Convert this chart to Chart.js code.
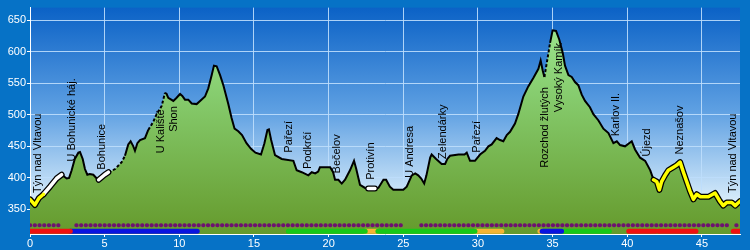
<!DOCTYPE html>
<html>
<head>
<meta charset="utf-8">
<script src="https://cdn.jsdelivr.net/npm/chart.js@4.4.1/dist/chart.umd.min.js"></script>
<style>
  html, body { margin: 0; padding: 0; background: #0672c6; }
  canvas { display: block; }
</style>
</head>
<body>
<canvas id="profile" width="750" height="250"></canvas>
<script>
// elevation profile (km, m)
const distKm = [0, 0.33, 0.6, 0.9, 1.34, 1.78, 2.12, 2.46, 2.62, 2.79, 3.0, 3.24, 3.35, 3.53, 3.68, 3.84, 4.0, 4.24, 4.47, 4.6, 4.8, 5.0, 5.25, 5.7, 6.14, 6.36, 6.58, 6.74, 6.92, 7.03, 7.19, 7.37, 7.7, 7.92, 8.26, 8.48, 8.82, 9.04, 9.15, 9.26, 9.6, 9.82, 10.05, 10.2, 10.38, 10.6, 10.83, 11.16, 11.39, 11.72, 11.94, 12.17, 12.32, 12.5, 12.73, 12.95, 13.28, 13.5, 13.7, 13.95, 14.2, 14.5, 14.8, 15.1, 15.47, 15.7, 15.9, 16.0, 16.15, 16.41, 16.86, 17.64, 17.86, 18.2, 18.64, 18.87, 19.1, 19.3, 19.42, 20.1, 20.3, 20.43, 20.65, 20.88, 21.1, 21.43, 21.7, 21.85, 22.1, 22.44, 22.65, 23.1, 23.33, 23.67, 23.85, 24.1, 24.33, 25.0, 25.23, 25.57, 25.8, 26.0, 26.2, 26.4, 26.55, 26.8, 26.9, 27.2, 27.57, 27.8, 27.95, 28.13, 28.7, 29.1, 29.25, 29.47, 29.8, 30.14, 30.47, 30.7, 30.92, 31.25, 31.48, 31.7, 31.93, 32.15, 32.48, 32.7, 33.04, 33.37, 33.7, 34.05, 34.2, 34.34, 34.45, 34.65, 34.83, 35.0, 35.23, 35.45, 35.68, 35.83, 36.06, 36.28, 36.5, 36.72, 36.95, 37.17, 37.5, 37.73, 38.07, 38.4, 38.74, 39.07, 39.3, 39.52, 39.85, 40.3, 40.52, 40.86, 41.2, 41.54, 41.76, 41.98, 42.15, 42.3, 42.53, 42.75, 43.09, 43.3, 43.54, 43.76, 43.98, 44.2, 44.43, 44.65, 44.9, 45.43, 45.88, 46.2, 46.43, 46.66, 47.0, 47.23, 47.55];
const elevM = [366, 357, 368, 374, 386, 399, 405, 399, 400, 412, 430, 440, 441, 430, 414, 405, 406, 405, 399, 397, 401, 405, 409, 414, 425, 435, 453, 458, 450, 443, 455, 460, 463, 476, 489, 501, 514, 535, 533, 527, 522, 527, 533, 530, 524, 524, 518, 517, 522, 529, 542, 563, 578, 577, 563, 547, 517, 495, 478, 474, 468, 455, 446, 440, 437, 455, 476, 477, 460, 436, 430, 427, 412, 409, 404, 409, 407, 410, 417, 417, 409, 397, 397, 391, 397, 412, 427, 414, 389, 384, 383, 383, 384, 397, 397, 386, 381, 381, 386, 404, 407, 404, 399, 391, 404, 432, 437, 430, 422, 422, 430, 435, 437, 437, 440, 427, 427, 437, 443, 450, 453, 463, 460, 458, 468, 473, 486, 501, 529, 545, 558, 573, 586, 570, 560, 588, 614, 634, 633, 619, 598, 578, 563, 560, 552, 547, 532, 522, 512, 501, 491, 478, 471, 455, 458, 452, 450, 458, 445, 432, 427, 412, 397, 394, 381, 394, 404, 412, 417, 420, 425, 409, 394, 379, 366, 374, 370, 370, 376, 363, 356, 361, 361, 356, 363];

// highlighted / dashed stretches of the route (km from, km to)
const yellowParts = [[0, 0.9], [41.76, 47.55]];
const whiteParts = [[0.9, 2.12], [4.6, 5.25], [22.65, 23.1]];
const dashedParts = [[5.25, 6.36], [7.92, 9.04], [34.45, 34.83]];

// marker rows under the profile
const purpleParts = [[0, 2.0], [3.1, 25.1], [26.2, 46.8], [47.3, 47.35]];
const redParts = [[0, 2.7], [40.1, 41.9], [42.1, 44.6], [47.1, 47.55]];
const blueParts = [[2.7, 11.2], [34.3, 35.6]];
const greenParts = [[17.3, 22.45], [23.3, 29.8], [35.6, 38.8]];
const orangeParts = [[22.45, 23.3], [29.8, 31.6], [34.15, 34.3]];

// waypoint names
const placeNames = ["Týn nad Vltavou", "U Bohunické háj.", "Bohunice", "U Kaliště", "Shon", "Pařezí", "Podkrčí", "Bečelov", "Protivín", "U Andresa", "Zelendárky", "Pařezí", "Rozchod žlutých", "Vysoký Kamík", "Karlov II.", "Újezd", "Neznašov", "Týn nad Vltavou"];
const placeKm = [0.56, 2.8, 4.8, 8.77, 9.65, 17.37, 18.64, 20.54, 22.84, 25.45, 27.64, 29.92, 34.5, 35.45, 39.25, 41.3, 43.54, 47.1];
const placeElev = [376, 426, 413, 439, 473, 440, 414, 407, 397, 400, 430, 440, 416, 504, 466, 434, 437, 376];

const xTicks = [0, 5, 10, 15, 20, 25, 30, 35, 40, 45];
const yTicks = [350, 400, 450, 500, 550, 600, 650];

const dotsRow = 325;
const barsRow = 315.5;

const profile = distKm.map((x, i) => ({ x, y: elevM[i] }));

function pick(parts) {
  const out = [];
  parts.forEach(([a, b], i) => {
    if (i > 0) out.push({ x: (a + out[out.length - 1].x) / 2, y: null });
    profile.filter(p => p.x >= a && p.x <= b).forEach(p => out.push(p));
  });
  return out;
}

function row(parts, y) {
  const out = [];
  parts.forEach(([a, b], i) => {
    if (i > 0) out.push({ x: a - 0.01, y: null });
    out.push({ x: a, y }, { x: b, y });
  });
  return out;
}

const inDashed = x => dashedParts.some(([a, b]) => x >= a && x < b);

const font = { family: "'Liberation Sans', Arial, sans-serif", size: 11 };

const background = {
  id: 'background',
  beforeDraw(chart) {
    const { ctx, chartArea: a } = chart;
    ctx.save();
    ctx.fillStyle = '#0672c6';
    ctx.fillRect(0, 0, chart.width, chart.height);
    const g = ctx.createLinearGradient(0, a.top, 0, a.bottom);
    g.addColorStop(0, '#0b62c6');
    g.addColorStop(0.45, '#5d9fe2');
    g.addColorStop(0.85, '#d6ebfa');
    g.addColorStop(1, '#eef8fd');
    ctx.fillStyle = g;
    ctx.fillRect(a.left, a.top, a.right - a.left, a.bottom - a.top);
    ctx.restore();
  }
};

const placeLabels = {
  id: 'placeLabels',
  afterDatasetsDraw(chart) {
    const { ctx, scales: { x, y } } = chart;
    ctx.save();
    ctx.fillStyle = '#000';
    ctx.font = "11px 'Liberation Sans', Arial, sans-serif";
    ctx.textAlign = 'left';
    ctx.textBaseline = 'middle';
    placeNames.forEach((name, i) => {
      ctx.save();
      ctx.translate(x.getPixelForValue(placeKm[i]), y.getPixelForValue(placeElev[i]));
      ctx.rotate(-Math.PI / 2);
      ctx.fillText(name, 0, 0);
      ctx.restore();
    });
    ctx.restore();
  }
};

function greenFill(context) {
  const a = context.chart.chartArea;
  if (!a) return '#7cb850';
  const g = context.chart.ctx.createLinearGradient(0, 20, 0, a.bottom);
  g.addColorStop(0, '#9ee890');
  g.addColorStop(0.35, '#86cc6e');
  g.addColorStop(1, '#659a2c');
  return g;
}

const lineBase = { pointRadius: 0, fill: false, spanGaps: false, tension: 0 };
const rounded = { borderCapStyle: 'round', borderJoinStyle: 'round' };

new Chart(document.getElementById('profile'), {
  type: 'line',
  data: {
    datasets: [
      { ...lineBase, ...rounded, data: row(redParts, barsRow), borderColor: '#f01010', borderWidth: 5, order: 1 },
      { ...lineBase, ...rounded, data: row(blueParts, barsRow), borderColor: '#0a14e0', borderWidth: 5, order: 1 },
      { ...lineBase, ...rounded, data: row(greenParts, barsRow), borderColor: '#18c818', borderWidth: 5, order: 1 },
      { ...lineBase, ...rounded, data: row(orangeParts, barsRow), borderColor: '#f4b434', borderWidth: 5, order: 1 },
      { ...lineBase, ...rounded, data: row(purpleParts, dotsRow), borderColor: '#6e1270', borderWidth: 4, borderDash: [0.3, 4.4], order: 1 },
      { ...lineBase, ...rounded, data: pick(yellowParts), borderColor: '#ffff00', borderWidth: 3.5, order: 2 },
      { ...lineBase, ...rounded, data: pick(yellowParts), borderColor: '#000', borderWidth: 6, order: 3 },
      { ...lineBase, ...rounded, data: pick(whiteParts), borderColor: '#ffffff', borderWidth: 3.5, order: 2 },
      { ...lineBase, ...rounded, data: pick(whiteParts), borderColor: '#000', borderWidth: 6, order: 3 },
      // profile outline, dashed where the path is unpaved
      {
        ...lineBase,
        data: profile,
        borderColor: '#000',
        borderWidth: 2,
        segment: { borderDash: ctx => inDashed(ctx.p0.parsed.x) ? [3, 2] : undefined },
        order: 4
      },
      // green area under the profile
      {
        ...lineBase,
        data: profile,
        borderWidth: 0,
        borderColor: 'rgba(0,0,0,0)',
        fill: 'start',
        backgroundColor: greenFill,
        order: 5
      }
    ]
  },
  options: {
    responsive: false,
    animation: false,
    devicePixelRatio: 1,
    layout: { padding: { top: 0, right: 10, bottom: 0, left: 0 } },
    plugins: { legend: { display: false }, tooltip: { enabled: false } },
    scales: {
      x: {
        type: 'linear',
        min: 0,
        max: 47.55,
        afterFit: s => { s.height = 16; },
        afterBuildTicks: s => { s.ticks = xTicks.map(v => ({ value: v })); },
        grid: { color: 'rgba(190,222,252,0.9)', tickColor: '#fff', tickLength: 3 },
        border: { color: '#fff', width: 1 },
        ticks: { color: '#fff', font, padding: 0, maxRotation: 0, autoSkip: false }
      },
      y: {
        type: 'linear',
        min: 311,
        max: 670,
        afterFit: s => { s.width = 30; },
        afterBuildTicks: s => { s.ticks = yTicks.map(v => ({ value: v })); },
        grid: { color: 'rgba(190,222,252,0.9)', tickColor: '#fff', tickLength: 3 },
        border: { color: '#fff', width: 1 },
        ticks: { color: '#fff', font, padding: 1 }
      }
    }
  },
  plugins: [background, placeLabels]
});
</script>
</body>
</html>
